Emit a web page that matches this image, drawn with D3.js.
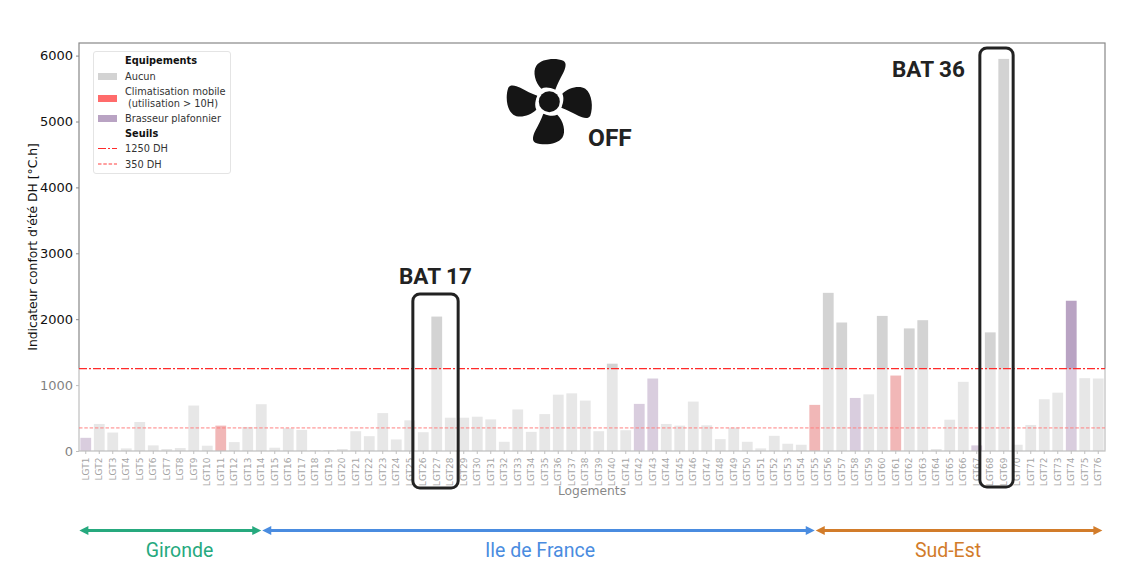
<!DOCTYPE html>
<html><head><meta charset="utf-8">
<script src="https://cdn.jsdelivr.net/npm/d3@7"></script>
<style>html,body{margin:0;padding:0;background:#fff}svg{display:block}</style>
</head><body><svg id="c" width="1129" height="573"></svg>
<script>
const values=[200,410,280,40,440,85,30,45,690,80,385,135,365,710,50,345,320,15,15,30,300,225,575,175,465,285,2040,505,505,520,480,140,630,290,560,855,875,765,300,1325,315,715,1100,410,385,750,390,180,355,140,40,230,110,95,700,2400,1950,805,860,2050,1145,1860,1985,30,475,1050,85,1800,5950,95,395,785,885,2280,1105,1100];
const categories=values.map((_,i)=>"LGT"+(i+1));
const brasseur=["LGT1","LGT42","LGT43","LGT58","LGT67","LGT74"];
const clim=["LGT11","LGT55","LGT61"];
const yTicks=[0,1000,2000,3000,4000,5000,6000];
const seuilHaut=1250, seuilBas=350;
const regions=[["Gironde","LGT1","LGT14","#26a97e"],["Ile de France","LGT14","LGT55","#4a8ce0"],["Sud-Est","LGT55","LGT76","#d27c2a"]];
const batiments=[["BAT 17","LGT26","LGT28",2040],["BAT 36","LGT68","LGT69",5950]];

const svg=d3.select("#c");
const L=79,R=1105,T=43,B=451;
const x=d3.scaleBand().domain(categories).range([L,R]).paddingInner(0.2).paddingOuter(0.1);
const y=d3.scaleLinear().domain([0,(B-T)/0.0659]).range([B,T]);
const col=c=>brasseur.includes(c)?"#b9a3c3":clim.includes(c)?"#e67a7a":"#d3d3d3";

// bars
svg.append("g").selectAll("rect").data(categories).join("rect")
 .attr("x",c=>x(c)).attr("width",x.bandwidth())
 .attr("y",(c,i)=>y(values[i])).attr("height",(c,i)=>B-y(values[i]))
 .attr("fill",col);

// axes
const font="'DejaVu Sans',sans-serif";
const ax=d3.axisBottom(x).tickSize(3).tickPadding(2);
const gx=svg.append("g").attr("transform",`translate(0,${B})`).call(ax);
gx.selectAll("text").attr("transform","rotate(-90)").attr("text-anchor","end").attr("x",-6.5).attr("y",0).attr("dy","0.35em")
 .style("font-family",font).style("font-size","9px").attr("fill","#555");
gx.selectAll(".tick line").attr("stroke","#888");
gx.select(".domain").remove();
const gy=svg.append("g").attr("transform",`translate(${L},0)`).call(d3.axisLeft(y).tickValues(yTicks).tickFormat(d3.format("d")).tickSize(3).tickPadding(3));
gy.selectAll("text").style("font-family",font).style("font-size","13px").attr("fill","#111");
gy.selectAll(".tick line").attr("stroke","#888");
gy.select(".domain").remove();
svg.append("rect").attr("x",L).attr("y",T).attr("width",R-L).attr("height",B-T).attr("fill","none").attr("stroke","#888").attr("stroke-width",1.2);

svg.append("text").attr("transform",`translate(37,${(T+B)/2}) rotate(-90)`).attr("text-anchor","middle")
 .style("font-family",font).style("font-size","12.3px").attr("fill","#111").text("Indicateur confort d'été DH [°C.h]");
svg.append("text").attr("x",592).attr("y",495).attr("text-anchor","middle")
 .style("font-family",font).style("font-size","12.3px").attr("fill","#222").text("Logements");

// white veil under the upper threshold
svg.append("rect").attr("x",0).attr("y",y(seuilHaut)).attr("width",R+1).attr("height",505-y(seuilHaut)).attr("fill","#fff").attr("opacity",0.46);

// thresholds
svg.append("line").attr("x1",L).attr("x2",R).attr("y1",y(seuilHaut)).attr("y2",y(seuilHaut))
 .attr("stroke","#ff2a2a").attr("stroke-width",1.1).attr("stroke-dasharray","8 2 2 2");
svg.append("line").attr("x1",L).attr("x2",R).attr("y1",y(seuilBas)).attr("y2",y(seuilBas))
 .attr("stroke","#ff8080").attr("stroke-width",1).attr("stroke-dasharray","3.5 1.8");

// legend
const lg=svg.append("g");
lg.append("rect").attr("x",93.5).attr("y",51.5).attr("width",137).attr("height",122).attr("rx",2.5).attr("fill","#fff").attr("stroke","#e4e4e4");
const lt=(t,yy,b)=>lg.append("text").attr("x",125).attr("y",yy).style("font-family",font).style("font-size","9.8px").style("font-weight",b?"bold":"normal").attr("fill",b?"#111":"#333").text(t);
lt("Equipements",64,1);lt("Aucun",80,0);lt("Climatisation mobile",95,0);lt(" (utilisation > 10H)",107,0).attr("x",128);lt("Brasseur plafonnier",122,0);lt("Seuils",137,1);lt("1250 DH",152,0);lt("350 DH",167.5,0);
[["#d3d3d3",73],["#ff6b6b",95],["#b9a3c3",115]].forEach(([c,yy])=>lg.append("rect").attr("x",98).attr("y",yy).attr("width",19).attr("height",7).attr("fill",c));
lg.append("line").attr("x1",98).attr("x2",117).attr("y1",148.5).attr("y2",148.5).attr("stroke","#ff2a2a").attr("stroke-dasharray","8 2 2 2");
lg.append("line").attr("x1",98).attr("x2",117).attr("y1",164).attr("y2",164).attr("stroke","#ff8080").attr("stroke-width",1.5).attr("stroke-dasharray","3.5 1.8");

// building highlights
const ann="Roboto,sans-serif";
const boxes=[[-5,2.5,294,488,399,284],[-5,4,48,487,892,77]];
batiments.forEach(([n,a,b,v],i)=>{
 const [p1,p2,t,bt,tx,ty]=boxes[i];
 const xa=x(a)+p1, xb=x(b)+x.bandwidth()+p2;
 svg.append("rect").attr("x",xa).attr("y",t).attr("width",xb-xa).attr("height",bt-t).attr("rx",7).attr("fill","none").attr("stroke","#222").attr("stroke-width",3);
 svg.append("text").attr("x",tx).attr("y",ty).style("font-family",ann).style("font-weight","bold").style("font-size","22.5px").attr("fill","#222").text(n);
});

// fan
const fan=svg.append("g").attr("transform","translate(549.3,101.7)");
const blade="M-8,-13 C-14,-19 -17,-30 -13,-36 C-8,-43 6,-44 14,-41 C18,-39 16,-33 14,-29 C11,-23 8,-18 6,-12 C1,-14 -4,-15 -8,-13 Z";
[0,90,180,270].forEach(a=>fan.append("path").attr("d",blade).attr("transform",`rotate(${a})`).attr("fill","#151515"));
fan.append("circle").attr("r",13).attr("fill","#fff");
fan.append("circle").attr("r",10.5).attr("fill","#151515");
svg.append("text").attr("x",588).attr("y",146).style("font-family",ann).style("font-weight","bold").style("font-size","24.5px").attr("fill","#222").text("OFF");

// regions
const yA=530.5;
const ctr=c=>x(c)+x.bandwidth()/2;
regions.forEach(([n,a,b,c],i)=>{
 const x1=i==0?x(a)-1:ctr(a)+1, x2=i==2?x(b)+x.bandwidth()-1.3:ctr(b);
 svg.append("line").attr("x1",x1+5).attr("x2",x2-5).attr("y1",yA).attr("y2",yA).attr("stroke",c).attr("stroke-width",3);
 svg.append("path").attr("d",`M${x1},${yA} l9,-4.5 v9 Z`).attr("fill",c);
 svg.append("path").attr("d",`M${x2},${yA} l-9,-4.5 v9 Z`).attr("fill",c);
 svg.append("text").attr("x",[179.5,540,948][i]).attr("y",556.5).attr("text-anchor","middle").style("font-family",ann).style("font-size","19.5px").attr("fill",c).text(n);
});
</script></body></html>
